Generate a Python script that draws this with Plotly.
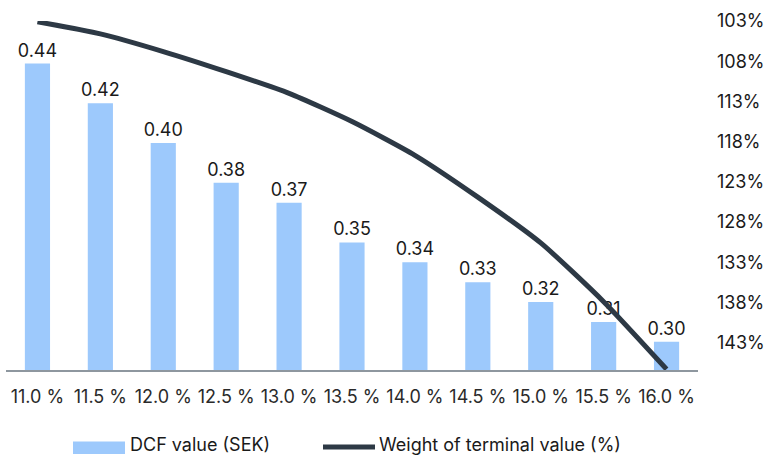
import plotly.graph_objects as go

# Discount rate scenarios
wacc_labels = ["11.0 %", "11.5 %", "12.0 %", "12.5 %", "13.0 %", "13.5 %",
               "14.0 %", "14.5 %", "15.0 %", "15.5 %", "16.0 %"]

# DCF value per share (SEK)
dcf_value = [0.44, 0.42, 0.40, 0.38, 0.37, 0.35, 0.34, 0.33, 0.32, 0.31, 0.30]

# Weight of terminal value in total value (%)
terminal_weight = [103.1, 104.6, 106.8, 109.3, 112.0, 115.5, 119.7, 124.9, 130.6, 137.9, 146.3]

# Right axis ticks
weight_ticks = [103, 108, 113, 118, 123, 128, 133, 138, 143]

series_names = ["DCF value (SEK)", "Weight of terminal value (%)"]

FONT = "Inter"
TEXT_COLOR = "#1a1a1a"
BAR_COLOR = "#9dc9fc"
LINE_COLOR = "#2d3945"

# Plot area in pixels (used to place the hand-drawn legend)
W, H = 768, 456
ML, MR, MT, MB = 6, 70, 21, 86
PW, PH = W - ML - MR, H - MT - MB


def px_x(p):
    return (p - ML) / PW


def px_y(p):
    return (H - MB - p) / PH


fig = go.Figure()

fig.add_trace(go.Bar(
    x=wacc_labels,
    y=dcf_value,
    name=series_names[0],
    marker=dict(color=BAR_COLOR, line=dict(width=0)),
    text=[f"{v:.2f}" for v in dcf_value],
    textposition="outside",
    constraintext="none",
    textfont=dict(family=FONT, size=18, color=TEXT_COLOR),
    cliponaxis=False,
    yaxis="y",
))

fig.add_trace(go.Scatter(
    x=wacc_labels,
    y=terminal_weight,
    name=series_names[1],
    mode="lines",
    line=dict(color=LINE_COLOR, width=5, shape="spline", smoothing=0.6),
    cliponaxis=False,
    yaxis="y2",
))

# Legend drawn below the axis: wide bar swatch and rounded line swatch
fig.add_shape(type="rect", xref="paper", yref="paper",
              x0=px_x(73), x1=px_x(125), y0=px_y(454), y1=px_y(441.5),
              fillcolor=BAR_COLOR, line=dict(width=0), layer="above")
fig.add_shape(type="line", xref="paper", yref="paper",
              x0=px_x(323), x1=px_x(375), y0=px_y(447), y1=px_y(447),
              line=dict(color=LINE_COLOR, width=5), layer="above")
fig.add_annotation(text=series_names[0], xref="paper", yref="paper",
                   x=px_x(129), y=px_y(444), xanchor="left", yanchor="middle",
                   showarrow=False, borderpad=0,
                   font=dict(family=FONT, size=18, color=TEXT_COLOR))
fig.add_annotation(text=series_names[1], xref="paper", yref="paper",
                   x=px_x(378), y=px_y(444), xanchor="left", yanchor="middle",
                   showarrow=False, borderpad=0,
                   font=dict(family=FONT, size=18, color=TEXT_COLOR))

fig.update_layout(
    width=W,
    height=H,
    margin=dict(l=ML, r=MR, t=MT, b=MB, autoexpand=False),
    paper_bgcolor="white",
    plot_bgcolor="white",
    font=dict(family=FONT, size=18, color=TEXT_COLOR),
    bargap=0.6,
    showlegend=False,
    xaxis=dict(
        type="category",
        showgrid=False,
        showline=True,
        linecolor="#8e979f",
        linewidth=1.5,
        ticks="",
        ticklabelstandoff=10,
        tickfont=dict(family=FONT, size=18, color="#2a2a2a"),
    ),
    yaxis=dict(
        range=[0.2858, 0.4614],
        visible=False,
        showgrid=False,
        zeroline=False,
    ),
    yaxis2=dict(
        overlaying="y",
        side="right",
        range=[146.4, 103],
        tickvals=weight_ticks,
        ticktext=[f"{t}%" for t in weight_ticks],
        showgrid=False,
        zeroline=False,
        showline=False,
        ticks="",
        ticklabelstandoff=18,
        tickfont=dict(family=FONT, size=18, color=TEXT_COLOR),
    ),
)

fig.write_html("out.html")
